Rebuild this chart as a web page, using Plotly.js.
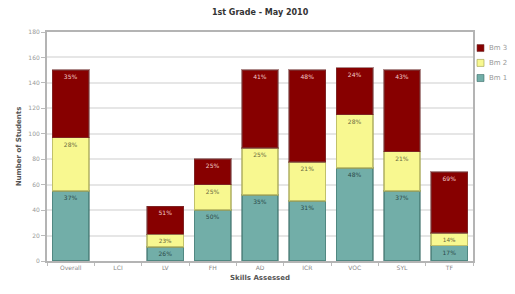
<!DOCTYPE html>
<html>
<head>
<meta charset="utf-8">
<script src="https://cdn.plot.ly/plotly-3.0.1.min.js"></script>
<style>html,body{margin:0;padding:0;background:#fff;}#chart{width:515px;height:294px;}</style>
</head>
<body>
<div id="chart"></div>
<script>
const categories = ["Overall", "LCI", "LV", "FH", "AD", "ICR", "VOC", "SYL", "TF"];
const bm1 = [55, 0, 11, 40, 52, 47, 73, 55, 12];
const bm2 = [42, 0, 10, 20, 37, 31, 42, 31, 10];
const bm3 = [53, 0, 22, 20, 61, 72, 37, 64, 48];
const seriesNames = ["Bm 1", "Bm 2", "Bm 3"];
const yTicks = [0, 20, 40, 60, 80, 100, 120, 140, 160, 180];

const totals = categories.map((c, i) => bm1[i] + bm2[i] + bm3[i]);
function pct(arr) {
  return arr.map((v, i) => totals[i] > 0 && v > 0 ? Math.round(100 * v / totals[i]) + "%" : "");
}
const colors = ["#72aea8", "#f8f890", "#870000"];
const lineColors = ["rgba(60,110,105,0.6)", "rgba(170,170,90,0.7)", "rgba(120,60,60,0.6)"];
const textColors = ["#2c4a48", "#6b6b40", "#f0c8c8"];
const series = [bm1, bm2, bm3];

const traces = series.map((vals, k) => ({
  type: "bar",
  name: seriesNames[k],
  x: categories,
  y: vals,
  text: pct(vals),
  textposition: "inside",
  insidetextanchor: "end",
  textangle: 0,
  textfont: {family: "DejaVu Sans", size: 6, color: textColors[k]},
  marker: {color: colors[k], line: {color: lineColors[k], width: vals.map(v => v > 0 ? 1.5 : 0)}},
  hoverinfo: "none",
  showlegend: false
}));

// custom legend (top item = Bm 3)
const shapes = [];
const annotations = [];
const legendY = [0.799, 0.865, 0.930]; // Bm1, Bm2, Bm3
seriesNames.forEach((name, k) => {
  const yc = legendY[k];
  shapes.push({type: "rect", xref: "paper", yref: "paper",
    x0: 1.0094, x1: 1.0258, y0: yc - 0.0153, y1: yc + 0.0153,
    fillcolor: colors[k], line: {color: lineColors[k], width: 1}});
  annotations.push({xref: "paper", yref: "paper", x: 1.033, y: yc, xanchor: "left", yanchor: "middle",
    text: name, showarrow: false, font: {family: "DejaVu Sans", size: 7, color: "#999"}});
});

const layout = {
  width: 515, height: 294,
  margin: {l: 47, r: 42, t: 32, b: 33, autoexpand: false},
  paper_bgcolor: "#fff", plot_bgcolor: "#fff",
  barmode: "stack",
  bargap: 0.23,
  showlegend: false,
  shapes: shapes,
  annotations: annotations,
  title: {text: "<b>1st Grade - May 2010</b>", x: 0.505, xanchor: "center", y: 0.958, yanchor: "middle",
          font: {family: "DejaVu Sans", size: 8, color: "#333"}},
  xaxis: {
    type: "category",
    showline: true, linecolor: "#b4b4b4", linewidth: 2, mirror: true,
    ticks: "outside", tickson: "boundaries", ticklen: 3, tickcolor: "#bbb",
    tickfont: {family: "DejaVu Sans", size: 6, color: "#888"},
    title: {text: "<b>Skills Assessed</b>", font: {family: "DejaVu Sans", size: 7, color: "#555"}, standoff: 5},
    showgrid: false
  },
  yaxis: {
    range: [0, 180], tickvals: yTicks, ticktext: yTicks.map(String),
    showline: true, linecolor: "#b4b4b4", linewidth: 2, mirror: true,
    ticks: "outside", ticklen: 4, tickcolor: "#bbb",
    tickfont: {family: "DejaVu Sans", size: 6, color: "#999"},
    showgrid: true, gridcolor: "#e6e6e6", gridwidth: 2,
    zeroline: false,
    title: {text: "<b>Number of Students</b>", font: {family: "DejaVu Sans", size: 7, color: "#555"}, standoff: 6}
  }
};

Plotly.newPlot("chart", traces, layout, {displayModeBar: false, staticPlot: true});
</script>
</body>
</html>
